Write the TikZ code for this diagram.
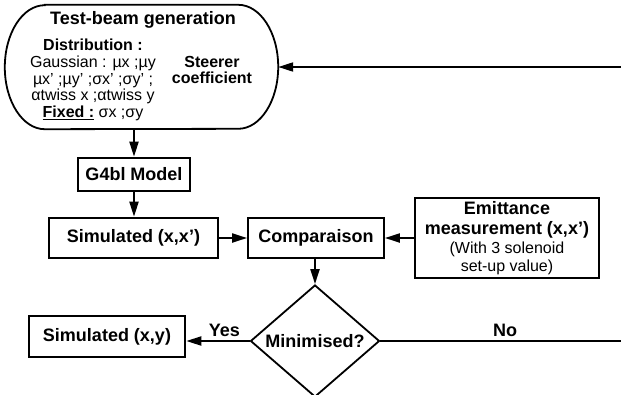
\documentclass[tikz,border=0pt]{standalone}
\usepackage{fontspec}
\setmainfont{Liberation Sans}
\usetikzlibrary{shapes.geometric,arrows.meta}
\newcommand{\ftitle}{\fontsize{18}{19.5}\selectfont\bfseries}
\newcommand{\fbody}{\fontsize{16}{16.7}\selectfont}
\tikzset{blk/.style={draw, line width=2.6pt, inner sep=0pt, font=\ftitle},
cmp/.style={draw, line width=1.8pt, inner sep=0pt, font=\ftitle},
dia/.style={draw, diamond, aspect=1.15, line width=1.8pt, inner sep=0pt, minimum width=129pt, minimum height=112pt, font=\ftitle},
arr/.style={line width=2pt, -{Triangle[length=15pt,width=9pt]}}}

\begin{document}
\begin{tikzpicture}[x=1pt,y=-1pt]
\useasboundingbox (0,0) rectangle (621,394);
\clip (0,0) rectangle (621,394);
\node[minimum width=273pt, minimum height=124pt] (gen) at (141.5,67) {};
\draw[line width=1.8pt] ([xshift=40pt]gen.north west) -- ([xshift=-40pt]gen.north east)
 arc[start angle=90, end angle=-90, x radius=40pt, y radius=62pt] -- ([xshift=40pt]gen.south west)
 arc[start angle=270, end angle=90, x radius=40pt, y radius=62pt] -- cycle;
\node[font=\ftitle] (gtitle) at (143,20) {Test-beam generation};
\node[font=\fbody, align=center] (dist) at (93,80) {\textbf{Distribution :}\\Gaussian : µx ;µy\\µx' ;µy' ;σx' ;σy' ;\\αtwiss x ;αtwiss y\\\underline{\textbf{Fixed :}} σx ;σy};
\node[font=\fbody\bfseries, align=center] (steer) at (212,70) {Steerer\\coefficient};
\node[blk, minimum width=112pt, minimum height=33pt] (g4) at (134,174.5) {G4bl Model};
\node[blk, minimum width=169pt, minimum height=40pt] (simx) at (133.5,238) {Simulated (x,x’)};
\node[cmp, minimum width=136pt, minimum height=40pt] (comp) at (316,238) {Comparaison};
\node[blk, minimum width=184pt, minimum height=80pt, align=center] (emit) at (507,238) {Emittance\\measurement (x,x’)\\\fbody\mdseries (With 3 solenoid\\[-2pt]\fbody\mdseries set-up value)};
\node[dia] (min) at (315,341) {Minimised?};
\node[blk, minimum width=156pt, minimum height=41pt] (simy) at (107,336.5) {Simulated (x,y)};
\coordinate (rt) at (640,341);
% connectors
\draw[arr] (gen.south -| g4.north) -- (g4.north);
\draw[arr] (g4.south) -- (g4.south |- simx.north);
\draw[arr] (simx) -- (comp);
\draw[arr] (emit) -- (comp);
\draw[arr] (comp.south -| min.north) -- (min.north);
\draw[arr] (min.west) -- node[above, pos=0.4, font=\ftitle] {Yes} (min.west -| simy.east);
\draw[arr] (min.east) -- node[above, pos=0.48, font=\ftitle] {No} (rt) |- (gen.east);
\end{tikzpicture}
\end{document}
